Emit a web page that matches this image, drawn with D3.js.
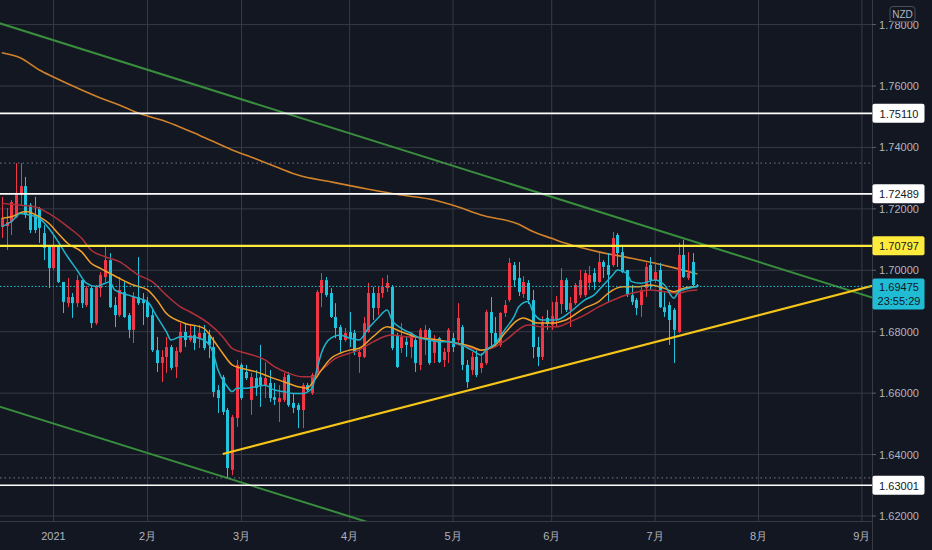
<!DOCTYPE html>
<html><head><meta charset="utf-8">
<script src="https://cdn.jsdelivr.net/npm/d3@7"></script>
<style>html,body{margin:0;padding:0;background:#131722;overflow:hidden}</style>
</head><body><svg id="c" width="932" height="550"></svg>
<script>
// ---------- DATA ----------
const firstIndex = -11;            // bar index of first candle (0 = 2021-01-04)
const firstDate = "2020-12-17";
const holidays = ["2021-01-01"];
const open = [1.7141,1.7144,1.7157,1.7173,1.7245,1.7274,1.7213,1.7180,1.7203,1.7121,1.7076,
1.7007,1.7076,1.6962,1.6893,1.6913,1.6893,1.6968,1.6887,1.6942,1.6828,1.6942,1.6978,1.7033,1.6887,1.6854,1.6929,1.6854,1.6806,1.6913,1.6903,
1.6897,1.6854,1.6740,1.6698,1.6718,1.6750,1.6685,1.6734,1.6799,1.6773,1.6789,1.6779,1.6796,1.6789,1.6750,1.6610,1.6652,1.6545,1.6350,1.6519,
1.6692,1.6669,1.6578,1.6649,1.6652,1.6626,1.6633,1.6587,1.6571,1.6578,1.6659,1.6568,1.6561,1.6545,1.6626,1.6600,1.6659,1.6926,1.6968,1.6926,
1.6848,1.6815,1.6773,1.6799,1.6796,1.6718,1.6718,1.6799,1.6926,1.6877,1.6926,1.6942,1.6946,1.6789,1.6747,1.6767,1.6750,1.6773,1.6692,1.6773,
1.6806,1.6731,1.6779,1.6708,1.6734,1.6779,1.6773,1.6815,1.6692,1.6675,1.6718,1.6682,1.6698,1.6864,1.6796,1.6757,1.6861,1.6903,1.7017,1.6975,
1.6923,1.6959,1.6903,1.6750,1.6718,1.6845,1.6822,1.6838,1.6890,1.6968,1.6871,1.6893,1.6919,1.6919,1.6959,1.6991,1.6962,1.7027,1.7017,1.7017,
1.7115,1.7059,1.7001,1.6919,1.6903,1.6887,1.6942,1.7017,1.6968,1.7001,1.6880,1.6887,1.6871,1.6799,1.7050,1.6975,1.7027,1.6951];
const high = [1.7239,1.7203,1.7229,1.7349,1.7349,1.7304,1.7219,1.7239,1.7206,1.7147,1.7076,
1.7115,1.7082,1.6962,1.6975,1.6926,1.6985,1.6968,1.6949,1.6946,1.6952,1.6994,1.7076,1.7056,1.6913,1.6978,1.6962,1.6861,1.6929,1.7043,1.6926,
1.6913,1.6871,1.6783,1.6740,1.6783,1.6757,1.6750,1.6828,1.6828,1.6822,1.6822,1.6822,1.6822,1.6806,1.6783,1.6626,1.6659,1.6552,1.6529,1.6708,
1.6698,1.6692,1.6666,1.6675,1.6757,1.6701,1.6675,1.6633,1.6626,1.6666,1.6669,1.6600,1.6568,1.6633,1.6633,1.6666,1.6936,1.6991,1.6978,1.6942,
1.6893,1.6822,1.6812,1.6864,1.6806,1.6747,1.6848,1.6959,1.6946,1.6946,1.6975,1.6985,1.6952,1.6796,1.6828,1.6783,1.6799,1.6783,1.6812,1.6822,
1.6812,1.6789,1.6783,1.6747,1.6812,1.6796,1.6893,1.6822,1.6708,1.6734,1.6740,1.6731,1.6871,1.6913,1.6848,1.6864,1.6903,1.7040,1.7027,1.7027,
1.6981,1.6968,1.6936,1.6783,1.6851,1.6871,1.6897,1.6916,1.7007,1.6975,1.6913,1.6959,1.7001,1.7001,1.7014,1.7007,1.7056,1.7033,1.7056,1.7125,
1.7121,1.7082,1.7001,1.6952,1.6910,1.6946,1.7024,1.7043,1.7027,1.7024,1.6929,1.6897,1.6877,1.7089,1.7099,1.7059,1.7056,1.6955];
const low = [1.7105,1.7066,1.7115,1.7170,1.7213,1.7170,1.7121,1.7121,1.7089,1.7033,1.6942,
1.7001,1.6959,1.6861,1.6880,1.6845,1.6880,1.6877,1.6880,1.6812,1.6822,1.6913,1.6962,1.6877,1.6815,1.6848,1.6845,1.6779,1.6763,1.6887,1.6822,
1.6845,1.6734,1.6669,1.6636,1.6666,1.6675,1.6649,1.6731,1.6750,1.6767,1.6740,1.6747,1.6740,1.6714,1.6587,1.6535,1.6529,1.6324,1.6333,1.6490,
1.6578,1.6643,1.6529,1.6591,1.6555,1.6584,1.6571,1.6561,1.6506,1.6571,1.6555,1.6535,1.6486,1.6486,1.6604,1.6594,1.6652,1.6880,1.6913,1.6845,
1.6779,1.6734,1.6767,1.6750,1.6724,1.6666,1.6714,1.6796,1.6838,1.6854,1.6910,1.6929,1.6740,1.6682,1.6731,1.6718,1.6714,1.6669,1.6675,1.6724,
1.6692,1.6698,1.6698,1.6685,1.6698,1.6734,1.6763,1.6675,1.6617,1.6659,1.6652,1.6666,1.6692,1.6750,1.6750,1.6750,1.6848,1.6897,1.6946,1.6916,
1.6910,1.6890,1.6714,1.6688,1.6708,1.6806,1.6806,1.6815,1.6858,1.6864,1.6815,1.6887,1.6910,1.6913,1.6936,1.6936,1.6959,1.6975,1.6897,1.7011,
1.7011,1.6991,1.6913,1.6887,1.6854,1.6848,1.6913,1.6936,1.6959,1.6877,1.6848,1.6757,1.6698,1.6796,1.6975,1.6968,1.6949,1.6946];
const close = [1.7170,1.7157,1.7222,1.7252,1.7274,1.7180,1.7131,1.7131,1.7138,1.7073,1.7007,
1.7076,1.6962,1.6897,1.6913,1.6893,1.6968,1.6893,1.6942,1.6828,1.6946,1.6985,1.7033,1.6880,1.6854,1.6936,1.6848,1.6806,1.6913,1.6893,1.6893,
1.6848,1.6740,1.6698,1.6718,1.6750,1.6682,1.6737,1.6799,1.6773,1.6789,1.6763,1.6796,1.6747,1.6757,1.6604,1.6584,1.6539,1.6356,1.6522,1.6692,
1.6584,1.6649,1.6652,1.6617,1.6626,1.6649,1.6584,1.6578,1.6584,1.6652,1.6561,1.6552,1.6545,1.6626,1.6610,1.6659,1.6929,1.6968,1.6919,1.6848,
1.6812,1.6773,1.6796,1.6779,1.6734,1.6734,1.6828,1.6926,1.6877,1.6926,1.6946,1.6959,1.6747,1.6685,1.6783,1.6757,1.6796,1.6698,1.6806,1.6806,
1.6698,1.6773,1.6701,1.6734,1.6806,1.6750,1.6845,1.6692,1.6636,1.6718,1.6659,1.6698,1.6864,1.6796,1.6763,1.6861,1.6887,1.7024,1.6968,1.6929,
1.6962,1.6903,1.6750,1.6718,1.6832,1.6825,1.6851,1.6897,1.6968,1.6871,1.6893,1.6952,1.6968,1.6991,1.6985,1.6962,1.7027,1.7011,1.6985,1.7105,
1.7056,1.6994,1.6919,1.6897,1.6877,1.6936,1.7011,1.6968,1.6994,1.6880,1.6864,1.6838,1.6806,1.7050,1.6978,1.6991,1.6952,1.69475];

// moving averages: [bar index, value]
const maFast = [[-11,1.7142],[-9,1.7158],[-7,1.7185],[-5,1.7180],[-3,1.7169],[-1,1.7137],[1,1.7093],[3,1.7044],[5,1.7001],[7,1.6958],[9,1.6947],[11,1.6958],[12,1.6963],[13,1.6936],[16,1.6919],[18,1.6909],[20,1.6898],[22,1.6849],[24,1.6800],[25,1.6773],[27,1.6784],[29,1.6784],[32,1.6773],[34,1.6730],[35,1.6675],[37,1.6621],[38,1.6605],[39,1.6616],[41,1.6616],[43,1.6621],[45,1.6626],[47,1.6610],[49,1.6605],[51,1.6599],[53,1.6599],[55,1.6616],[56,1.6675],[57,1.6730],[59,1.6779],[61,1.6789],[63,1.6779],[65,1.6773],[67,1.6811],[69,1.6844],[71,1.6871],[72,1.6838],[74,1.6811],[76,1.6795],[78,1.6779],[80,1.6773],[82,1.6767],[84,1.6767],[86,1.6762],[89,1.6740],[91,1.6724],[92,1.6740],[94,1.6762],[96,1.6806],[98,1.6849],[99,1.6881],[101,1.6898],[102,1.6865],[104,1.6838],[107,1.6838],[110,1.6865],[113,1.6903],[115,1.6919],[117,1.6952],[119,1.6985],[120,1.7001],[122,1.6990],[123,1.6963],[125,1.6958],[128,1.6968],[130,1.6952],[132,1.6909],[133,1.6930],[135,1.6941],[137,1.6947]];
const maMid = [[-11,1.7169],[-9,1.7174],[-6,1.7191],[-3,1.7174],[-1,1.7153],[1,1.7120],[3,1.7088],[6,1.7060],[8,1.7023],[10,1.7006],[12,1.6990],[14,1.6974],[17,1.6952],[20,1.6936],[22,1.6903],[24,1.6860],[27,1.6833],[28,1.6827],[32,1.6811],[34,1.6773],[36,1.6730],[38,1.6692],[40,1.6681],[43,1.6670],[46,1.6653],[49,1.6637],[52,1.6621],[54,1.6616],[55,1.6632],[57,1.6675],[59,1.6713],[61,1.6730],[63,1.6740],[65,1.6746],[68,1.6784],[71,1.6816],[74,1.6800],[77,1.6784],[82,1.6773],[86,1.6762],[89,1.6751],[91,1.6740],[94,1.6757],[96,1.6795],[100,1.6845],[103,1.6828],[106,1.6828],[109,1.6838],[113,1.6877],[116,1.6898],[118,1.6925],[121,1.6946],[124,1.6946],[127,1.6952],[130,1.6941],[132,1.6930],[134,1.6941],[137,1.6947]];
const maSlow = [[-11,1.7218],[-8,1.7213],[-4,1.7207],[-1,1.7185],[3,1.7142],[6,1.7104],[8,1.7066],[11,1.7044],[14,1.7028],[18,1.6985],[21,1.6963],[24,1.6919],[27,1.6881],[29,1.6865],[33,1.6827],[36,1.6784],[38,1.6746],[41,1.6730],[45,1.6708],[47,1.6686],[50,1.6665],[53,1.6653],[55,1.6653],[57,1.6675],[60,1.6713],[63,1.6730],[65,1.6740],[68,1.6767],[72,1.6789],[75,1.6784],[79,1.6779],[84,1.6767],[88,1.6751],[91,1.6740],[94,1.6751],[96,1.6770],[101,1.6822],[104,1.6816],[107,1.6816],[110,1.6833],[113,1.6854],[116,1.6881],[120,1.6909],[123,1.6925],[127,1.6936],[130,1.6930],[133,1.6925],[135,1.6933],[137,1.6936]];
const ma200 = [[-11,1.7708],[-7,1.7691],[-3,1.7652],[0,1.7629],[6,1.7587],[10,1.7561],[14,1.7538],[18,1.7512],[23,1.7489],[27,1.7466],[31,1.7440],[38,1.7392],[42,1.7369],[48,1.7333],[52,1.7310],[59,1.7288],[67,1.7264],[74,1.7245],[81,1.7229],[86,1.7207],[91,1.7180],[99,1.7150],[102,1.7126],[106,1.7104],[109,1.7088],[116,1.7060],[123,1.7039],[131,1.7012],[137,1.6988]];

// drawn lines: two anchor points each [bar index, price]
const greenUpper = [[0,1.7749],[100,1.7268]];
const greenLower = [[0,1.6501],[40,1.6309]];
const yellowTrend = [[36,1.6402],[133,1.6786]];
const whiteLevels = [1.75110, 1.72489, 1.63001];
const yellowLevel = 1.70797;
const lastPrice = 1.69475;
const countdown = "23:55:29";
const priceTicks = [1.62,1.64,1.66,1.68,1.70,1.72,1.74,1.76,1.78];
const currency = "NZD";

// ---------- CHART ----------
const plotR = 872, plotB = 521;
const svg = d3.select("#c");
svg.append("rect").attr("width",932).attr("height",550).attr("fill","#131722");
const x = d3.scaleLinear().domain([-11.383, 174.15]).range([0, plotR]);
const y = d3.scaleLinear().domain([1.62, 1.76]).range([516, 86]);

// trading days
const days = [];
{ const d = new Date(firstDate + "T00:00:00Z");
  while (days.length < 200) {
    const iso = d.toISOString().slice(0,10), wd = d.getUTCDay();
    if (wd !== 0 && wd !== 6 && !holidays.includes(iso)) days.push(new Date(d));
    d.setUTCDate(d.getUTCDate() + 1);
  } }
const monthTicks = [];
days.forEach((d, k) => {
  if (k === 0) return;
  if (d.getUTCMonth() !== days[k-1].getUTCMonth()) {
    const i = firstIndex + k;
    if (x(i) <= plotR) monthTicks.push({i, label: d.getUTCMonth() === 0 ? String(d.getUTCFullYear()) : (d.getUTCMonth()+1) + "月"});
  }
});

const defs = svg.append("defs");
defs.append("clipPath").attr("id","plot").append("rect").attr("width",plotR).attr("height",plotB);
const plot = svg.append("g").attr("clip-path","url(#plot)");

// grid
plot.selectAll(".hg").data(priceTicks).join("line")
  .attr("x1",0).attr("x2",plotR).attr("y1",d=>y(d)).attr("y2",d=>y(d))
  .attr("stroke","#363a45").attr("stroke-width",1);
plot.selectAll(".vg").data(monthTicks).join("line")
  .attr("x1",d=>x(d.i)).attr("x2",d=>x(d.i)).attr("y1",0).attr("y2",plotB)
  .attr("stroke","#363a45").attr("stroke-width",1);

// extended trend lines
function ext(pts, fromStart) {
  const [[i0,p0],[i1,p1]] = pts, s = (p1-p0)/(i1-i0);
  const a = fromStart ? i0 : x.domain()[0] - 5, b = x.domain()[1] + 5;
  return [[a, p0 + s*(a-i0)], [b, p0 + s*(b-i0)]];
}
const lineGen = d3.line().x(d=>x(d[0])).y(d=>y(d[1]));
plot.append("path").attr("d", lineGen(ext(greenUpper,false))).attr("stroke","#388e3c").attr("stroke-width",2).attr("fill","none");
plot.append("path").attr("d", lineGen(ext(greenLower,false))).attr("stroke","#388e3c").attr("stroke-width",2).attr("fill","none");

// MA200
const maLine = d3.line().x(d=>x(d[0])).y(d=>y(d[1])).curve(d3.curveMonotoneX);
plot.append("path").attr("d", maLine(ma200)).attr("stroke","#d0822a").attr("stroke-width",1.6).attr("fill","none");

// dotted range lines
const hi = d3.max(high), lo = d3.min(low);
plot.selectAll(".rng").data([hi, lo]).join("line")
  .attr("x1",0).attr("x2",plotR).attr("y1",d=>y(d)).attr("y2",d=>y(d))
  .attr("stroke","#787b86").attr("stroke-width",1).attr("stroke-dasharray","1.5,3");

// candles
const bars = open.map((o,k)=>({i:firstIndex+k,o,h:high[k],l:low[k],c:close[k]}));
const colUp = "#f23645", colDn = "#22c3dc";
const cg = plot.append("g");
cg.selectAll(".w").data(bars).join("line")
  .attr("x1",d=>Math.round(x(d.i))+0.5).attr("x2",d=>Math.round(x(d.i))+0.5)
  .attr("y1",d=>y(d.h)).attr("y2",d=>y(d.l))
  .attr("stroke",d=>d.c>=d.o?colUp:colDn).attr("stroke-width",1);
cg.selectAll(".b").data(bars).join("rect")
  .attr("x",d=>Math.round(x(d.i))-1).attr("width",3)
  .attr("y",d=>y(Math.max(d.o,d.c))).attr("height",d=>Math.max(1,Math.abs(y(d.o)-y(d.c))))
  .attr("fill",d=>d.c>=d.o?colUp:colDn);

// short moving averages
[[maSlow,"#b0303a"],[maMid,"#f0a028"],[maFast,"#20b4cc"]].forEach(([d,c])=>{
  plot.append("path").attr("d", maLine(d)).attr("stroke",c).attr("stroke-width",1.5).attr("fill","none");
});

// horizontal levels
plot.selectAll(".wl").data(whiteLevels).join("line")
  .attr("x1",0).attr("x2",plotR).attr("y1",d=>y(d)).attr("y2",d=>y(d))
  .attr("stroke","#ffffff").attr("stroke-width",1.6);
plot.append("line").attr("x1",0).attr("x2",plotR).attr("y1",y(yellowLevel)).attr("y2",y(yellowLevel))
  .attr("stroke","#ffeb3b").attr("stroke-width",2.2);
plot.append("path").attr("d", lineGen(ext(yellowTrend,true))).attr("stroke","#f5c518").attr("stroke-width",2.2).attr("fill","none");
plot.append("line").attr("x1",0).attr("x2",plotR).attr("y1",y(lastPrice)).attr("y2",y(lastPrice))
  .attr("stroke","#22c3dc").attr("stroke-width",1).attr("stroke-dasharray","1.5,2");

// axes borders
svg.append("line").attr("x1",plotR+0.5).attr("x2",plotR+0.5).attr("y1",0).attr("y2",550).attr("stroke","#363a45");
svg.append("line").attr("x1",0).attr("x2",plotR).attr("y1",plotB+0.5).attr("y2",plotB+0.5).attr("stroke","#363a45");

const font = "'Liberation Sans', Arial, sans-serif";
// price axis
const fmt = d3.format(".5f");
const ax = svg.append("g");
ax.selectAll(".tk").data(priceTicks).join("line")
  .attr("x1",plotR).attr("x2",plotR+4).attr("y1",d=>y(d)).attr("y2",d=>y(d)).attr("stroke","#5d606b");
ax.selectAll(".tl").data(priceTicks).join("text")
  .attr("x",899).attr("y",d=>y(d)).attr("text-anchor","middle").attr("dominant-baseline","central")
  .attr("font-family",font).attr("font-size",11).attr("fill","#b2b5be").text(d=>fmt(d));

// time axis
svg.selectAll(".ml").data(monthTicks).join("text")
  .attr("x",d=>x(d.i)).attr("y",536).attr("text-anchor","middle").attr("dominant-baseline","central")
  .attr("font-family",font).attr("font-size",11).attr("fill","#b2b5be").text(d=>d.label);

// tags
function tag(p, bg, fg, txt) {
  const g = svg.append("g");
  g.append("rect").attr("x",plotR+0.5).attr("y",y(p)-9.5).attr("width",52).attr("height",19).attr("rx",2).attr("fill",bg);
  g.append("text").attr("x",899).attr("y",y(p)+0.5).attr("text-anchor","middle").attr("dominant-baseline","central")
    .attr("font-family",font).attr("font-size",11).attr("fill",fg).text(txt);
}
whiteLevels.forEach(p=>tag(p,"#ffffff","#131722",fmt(p)));
tag(yellowLevel,"#ffeb3b","#131722",fmt(yellowLevel));
{ const g = svg.append("g"), yy = y(lastPrice);
  g.append("rect").attr("x",plotR+0.5).attr("y",yy-8).attr("width",52).attr("height",31).attr("rx",2).attr("fill","#1fbcd4");
  g.append("text").attr("x",899).attr("y",yy+1).attr("text-anchor","middle").attr("dominant-baseline","central")
    .attr("font-family",font).attr("font-size",11).attr("fill","#131722").text(fmt(lastPrice));
  g.append("text").attr("x",899).attr("y",yy+15).attr("text-anchor","middle").attr("dominant-baseline","central")
    .attr("font-family",font).attr("font-size",11).attr("fill","#131722").text(countdown);
}
// currency box
svg.append("rect").attr("x",890).attr("y",6.5).attr("width",25).attr("height",15).attr("rx",3)
  .attr("fill","#131722").attr("stroke","#4a4e5a");
svg.append("text").attr("x",902.5).attr("y",14.5).attr("text-anchor","middle").attr("dominant-baseline","central")
  .attr("font-family",font).attr("font-size",10).attr("fill","#b2b5be").text(currency);
</script></body></html>
